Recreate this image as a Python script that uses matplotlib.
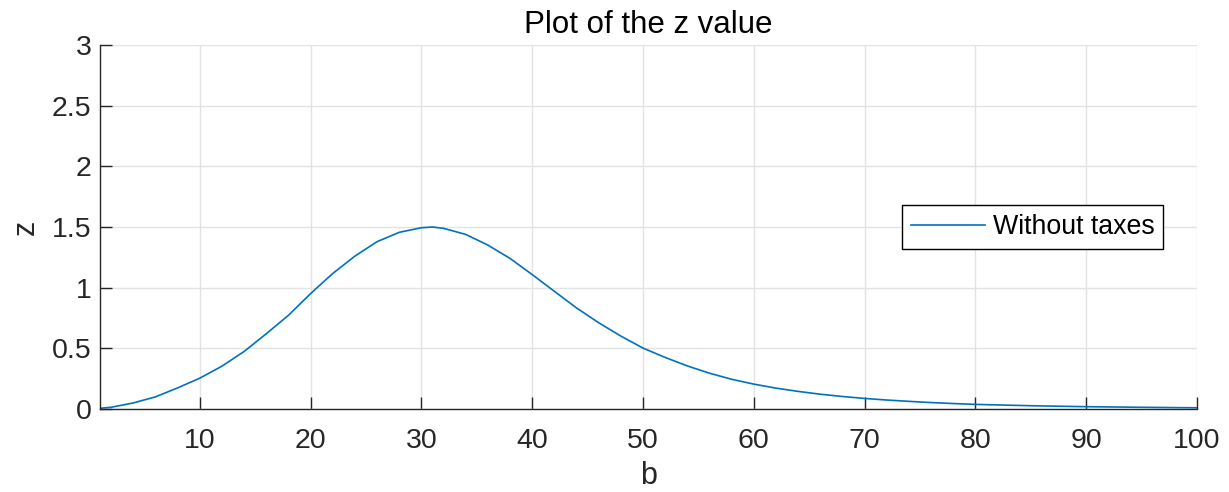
import matplotlib.pyplot as plt
import numpy as np

plt.rcParams['font.family'] = ['Liberation Sans', 'DejaVu Sans']

# values
b = [1, 2, 4, 6, 8, 10, 12, 14, 16, 18, 20, 22, 24, 26, 28, 30, 31, 32, 34, 36, 38,
     40, 42, 44, 46, 48, 50, 52, 54, 56, 58, 60, 62, 64, 66, 68, 70, 72, 74, 76, 78,
     80, 85, 90, 95, 100]
z = [0.006, 0.014, 0.05, 0.10, 0.174, 0.254, 0.353, 0.474, 0.62, 0.772, 0.951, 1.117,
     1.26, 1.379, 1.456, 1.494, 1.5, 1.489, 1.439, 1.351, 1.241, 1.108, 0.97, 0.833,
     0.711, 0.601, 0.502, 0.425, 0.355, 0.295, 0.245, 0.205, 0.172, 0.145, 0.122,
     0.103, 0.087, 0.074, 0.063, 0.053, 0.045, 0.038, 0.027, 0.019, 0.014, 0.010]

xticks = [10, 20, 30, 40, 50, 60, 70, 80, 90, 100]
yticks = [0, 0.5, 1, 1.5, 2, 2.5, 3]
yticklabels = ["0", "0.5", "1", "1.5", "2", "2.5", "3"]

axcol = "#262626"

fig = plt.figure(figsize=(12.29, 4.92), dpi=100)
ax = fig.add_axes([0.0814, 0.1687, 0.8926, 0.7398])

ax.plot(b, z, color="#0072BD", lw=1.2, label="Without taxes")

ax.set_xlim(1, 100)
ax.set_ylim(0, 3)
ax.set_xticks(xticks)
ax.set_yticks(yticks)
ax.set_yticklabels(yticklabels)
ax.grid(True, color="#e3e3e3", lw=1.0)
ax.set_axisbelow(True)

for s in ["top", "right"]:
    ax.spines[s].set_visible(False)
for s in ["left", "bottom"]:
    ax.spines[s].set_color(axcol)
    ax.spines[s].set_linewidth(1.0)

ax.tick_params(direction="in", length=8.6, width=1.0, color=axcol,
               labelsize=20.5, labelcolor=axcol)
ax.tick_params(axis="x", pad=14)
ax.tick_params(axis="y", pad=6)

ax.set_title("Plot of the z value", fontsize=22.5, color="black", pad=9)
ax.set_xlabel("b", fontsize=22, color=axcol, labelpad=5)
ax.set_ylabel("z", fontsize=22, color=axcol, labelpad=8)

leg = ax.legend(loc="center right", bbox_to_anchor=(0.969, 0.5), fontsize=19.3,
                fancybox=False, framealpha=1, edgecolor="black",
                handlelength=2.75, handletextpad=0.3, borderpad=0.32, borderaxespad=0)
leg.get_frame().set_linewidth(1.0)

plt.savefig("out.png", dpi=100)
